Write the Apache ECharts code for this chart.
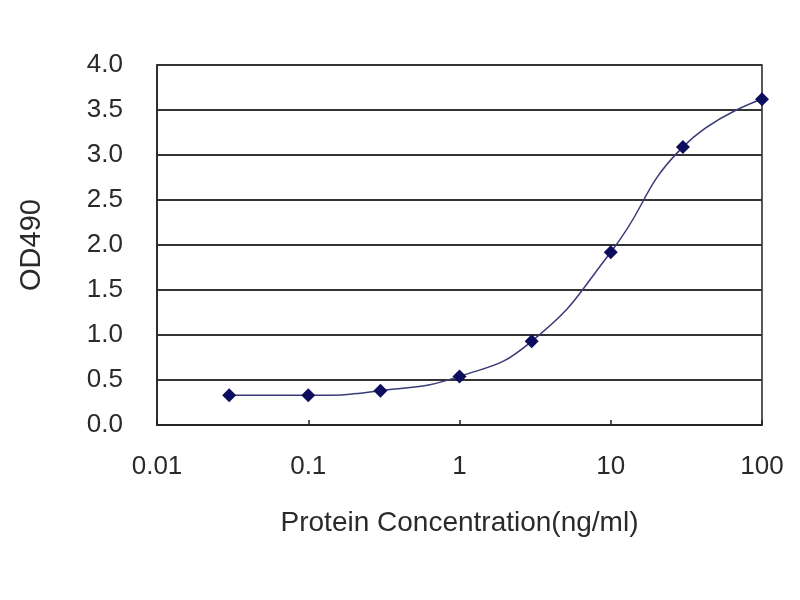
<!DOCTYPE html>
<html><head><meta charset="utf-8">
<script src="https://cdn.jsdelivr.net/npm/echarts@6/dist/echarts.min.js"></script>
<style>html,body{margin:0;padding:0;background:#fff}#c{width:800px;height:600px}</style>
</head><body><div id="c"></div>
<script>
const concentrations = [0.03, 0.1, 0.3, 1, 3, 10, 30, 100];
const od490 = [0.33, 0.33, 0.38, 0.54, 0.93, 1.92, 3.09, 3.62];
const xTicks = [0.01, 0.1, 1, 10, 100];
const yTicks = [0, 0.5, 1, 1.5, 2, 2.5, 3, 3.5, 4];

const font = 'Liberation Sans, Arial, sans-serif';
const chart = echarts.init(document.getElementById('c'), null, {renderer: 'canvas'});
chart.setOption({
  backgroundColor: '#fff',
  animation: false,
  grid: {left: 157, right: 38, top: 65, bottom: 175, show: true, borderColor: '#222', borderWidth: 1.5, backgroundColor: '#fff'},
  xAxis: {
    type: 'log', logBase: 10, min: xTicks[0], max: xTicks[xTicks.length - 1],
    name: 'Protein Concentration(ng/ml)', nameLocation: 'middle', nameGap: 84,
    nameTextStyle: {fontFamily: font, fontSize: 28, color: '#2a2a2a'},
    axisLine: {show: true, lineStyle: {color: '#222', width: 1.5}},
    axisTick: {show: true, inside: true, length: 5, lineStyle: {color: '#222', width: 1.5}},
    minorTick: {show: false},
    splitLine: {show: false},
    axisLabel: {fontFamily: font, fontSize: 26, color: '#2a2a2a', margin: 29,
      formatter: v => { const t = xTicks.find(x => Math.abs(Math.log10(x) - Math.log10(v)) < 1e-6); return t !== undefined ? String(t) : ''; }}
  },
  yAxis: {
    type: 'value', min: yTicks[0], max: yTicks[yTicks.length - 1], interval: 0.5,
    name: 'OD490', nameLocation: 'middle', nameGap: 111, nameRotate: 90,
    nameTextStyle: {fontFamily: font, fontSize: 29, color: '#2a2a2a'},
    axisLine: {show: true, lineStyle: {color: '#222', width: 1.5}},
    axisTick: {show: false},
    splitLine: {show: true, lineStyle: {color: '#333', width: 2}},
    axisLabel: {fontFamily: font, fontSize: 26, color: '#2a2a2a', margin: 34,
      formatter: v => v.toFixed(1)}
  },
  series: [{
    type: 'line',
    data: concentrations.map((c, i) => [c, od490[i]]),
    smooth: 0.5,
    symbol: 'diamond', symbolSize: 14,
    lineStyle: {color: '#3a3a78', width: 1.5},
    itemStyle: {color: '#0d0d5e'}
  }]
});
</script></body></html>
